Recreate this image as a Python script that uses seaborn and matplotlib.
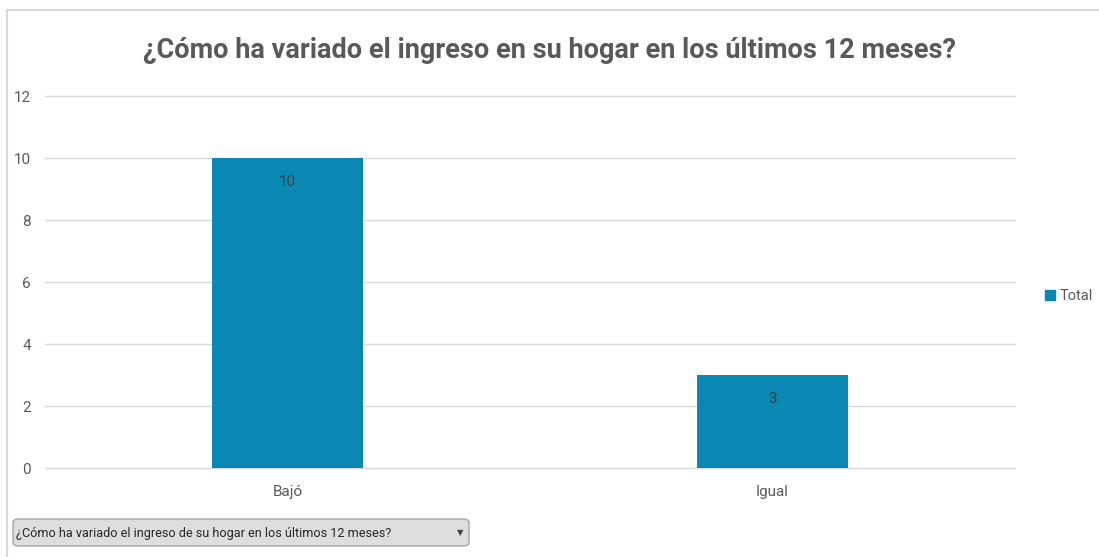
import matplotlib
matplotlib.use("Agg")
import matplotlib.pyplot as plt
from matplotlib.patches import FancyBboxPatch, Rectangle
import seaborn as sns
import pandas as pd

# datos del gráfico
categorias = ["Bajó", "Igual"]
totales = [10, 3]
titulo = "¿Cómo ha variado el ingreso en su hogar en los últimos 12 meses?"
filtro = "¿Cómo ha variado el ingreso de su hogar en los últimos 12 meses?"
serie = "Total"

sns.set_style("white")
plt.rcParams["font.family"] = ["Roboto", "DejaVu Sans"]

azul = "#0a87b3"
gris_texto = "#595959"

df = pd.DataFrame({"categoria": categorias, "total": totales})

fig = plt.figure(figsize=(10.99, 5.57), dpi=100)
W, H = 1099, 557

# marco exterior del gráfico
fig.patches.append(Rectangle((7 / W, -0.1), 1.2, (552 - 5) / H + 0.1,
                             transform=fig.transFigure, fill=False,
                             edgecolor="#d9d9d9", linewidth=1.5))

ax = fig.add_axes([45 / W, (H - 468) / H, 970 / W, 372 / H])
sns.barplot(data=df, x="categoria", y="total", color=azul, width=0.31,
            saturation=1, linewidth=0, ax=ax)

ax.set_ylim(0, 12)
ax.set_yticks(range(0, 13, 2))
ax.yaxis.grid(True, color="#d9d9d9", linewidth=1)
for gl in ax.get_ygridlines():
    gl.set_clip_on(False)
ax.set_axisbelow(True)
for s in ax.spines.values():
    s.set_visible(False)
ax.set_xlabel("")
ax.set_ylabel("")
ax.tick_params(axis="both", length=0, labelsize=11, colors=gris_texto)
ax.tick_params(axis="y", pad=10)
ax.tick_params(axis="x", pad=12)

for c in ax.containers:
    ax.bar_label(c, labels=[str(v) for v in totales], padding=-22,
                 fontsize=11, color="#404040")

fig.text(0.5, (H - 51) / H, titulo, ha="center", va="center",
         fontsize=19.5, fontweight="bold", color=gris_texto)

# leyenda
h = [Rectangle((0, 0), 1, 1, color=azul)]
fig.legend(h, [serie], loc="center left", bbox_to_anchor=(1032 / W, (H - 296) / H),
           frameon=False, fontsize=10.5, handlelength=0.7, handleheight=0.7,
           handletextpad=0.3, labelcolor=gris_texto)

# selector desplegable
caja = FancyBboxPatch((13 / W, (H - 546) / H), 456 / W, 27 / H,
                      boxstyle="round,pad=0,rounding_size=0.006",
                      transform=fig.transFigure, facecolor="#dedede",
                      edgecolor="#a6a6a6", linewidth=1)
fig.patches.append(caja)
fig.text(16 / W, (H - 533) / H, filtro, ha="left", va="center",
         fontsize=9.1, color="#262626")
fig.text(460 / W, (H - 533) / H, "▼", ha="center", va="center",
         fontsize=6, color="#404040", family="DejaVu Sans")

fig.savefig("out.png", dpi=100)
